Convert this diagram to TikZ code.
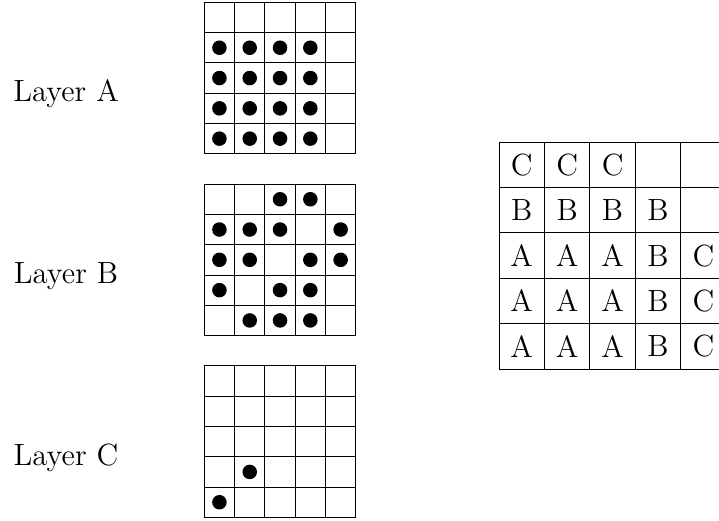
\documentclass[tikz,border=0pt]{standalone}
\usepackage{tikz}

\begin{document}
\begin{tikzpicture}[font=\Large]
\useasboundingbox (-3.371,-0.059) rectangle (8.494,8.538);
\foreach \k in {0,3,6}
  \draw[step=0.5, yshift=\k cm] (0,0) grid (2.5,2.5);

\node[anchor=base] (layA) at (-2.281,6.86) {Layer A};
\node[anchor=base] (layB) at (-2.281,3.86) {Layer B};
\node[anchor=base] (layC) at (-2.281,0.86) {Layer C};

\foreach \i in {0,...,3}
  \foreach \j in {0,...,3}
    \fill ({\i*0.5+0.25},{6.25+\j*0.5}) circle (0.12);
\foreach \i/\j in {1/0,2/0,3/0,0/1,2/1,3/1,0/2,1/2,3/2,4/2,0/3,1/3,2/3,4/3,2/4,3/4}
  \fill ({\i*0.5+0.25},{3.25+\j*0.5}) circle (0.12);
\foreach \i/\j in {0/0,1/1}
  \fill ({\i*0.5+0.25},{0.25+\j*0.5}) circle (0.12);

\begin{scope}[shift={(4.863,2.445)}]
\draw[step=0.75] (0,0) grid (3.75,3.75);
\foreach \i/\j/\t in {0/4/C,1/4/C,2/4/C,0/3/B,1/3/B,2/3/B,3/3/B,
    0/2/A,1/2/A,2/2/A,3/2/B,4/2/C,0/1/A,1/1/A,2/1/A,3/1/B,4/1/C,
    0/0/A,1/0/A,2/0/A,3/0/B,4/0/C}
  \node (cell\i\j) at ({\i*0.75+0.375},{\j*0.75+0.375}) {\t};
\end{scope}
\end{tikzpicture}
\end{document}
